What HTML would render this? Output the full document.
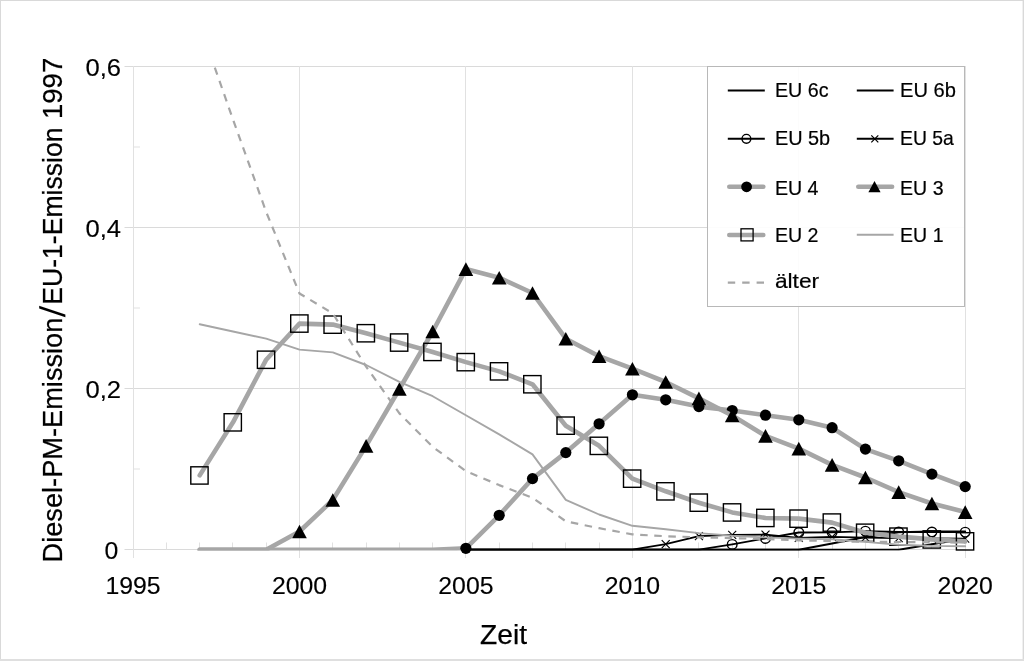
<!DOCTYPE html>
<html lang="de"><head><meta charset="utf-8"><title>Diesel-PM-Emission</title>
<style>html,body{margin:0;padding:0;background:#fff}svg{display:block}text{font-family:"Liberation Sans",sans-serif;fill:#000}</style>
</head><body>
<svg width="1024" height="661" viewBox="0 0 1024 661">
<rect x="0" y="0" width="1024" height="661" fill="#fff"/>
<rect x="0" y="0" width="1024" height="1" fill="#d9d9d9"/>
<rect x="0" y="0" width="1" height="661" fill="#d9d9d9"/>
<rect x="1022.6" y="0" width="1.4" height="661" fill="#d9d9d9"/>
<rect x="0" y="659" width="1024" height="2" fill="#dfdfdf"/>
<g stroke="#e1e1e1" stroke-width="1" fill="none">
<line x1="124.5" y1="66.5" x2="966" y2="66.5" stroke="#dadada"/>
<line x1="124.5" y1="227.5" x2="966" y2="227.5" stroke="#dadada"/>
<line x1="124.5" y1="388.5" x2="966" y2="388.5" stroke="#dadada"/>
<line x1="124.5" y1="549.5" x2="966" y2="549.5" stroke="#dadada"/>
<line x1="133.5" y1="66" x2="133.5" y2="558"/>
<line x1="299.5" y1="66" x2="299.5" y2="558"/>
<line x1="465.5" y1="66" x2="465.5" y2="558"/>
<line x1="632.5" y1="66" x2="632.5" y2="558"/>
<line x1="798.5" y1="66" x2="798.5" y2="558"/>
<line x1="965.5" y1="66" x2="965.5" y2="558"/>
<line x1="166.5" y1="542.5" x2="166.5" y2="549.5"/>
<line x1="199.5" y1="542.5" x2="199.5" y2="549.5"/>
<line x1="232.5" y1="542.5" x2="232.5" y2="549.5"/>
<line x1="266.5" y1="542.5" x2="266.5" y2="549.5"/>
<line x1="332.5" y1="542.5" x2="332.5" y2="549.5"/>
<line x1="366.5" y1="542.5" x2="366.5" y2="549.5"/>
<line x1="399.5" y1="542.5" x2="399.5" y2="549.5"/>
<line x1="432.5" y1="542.5" x2="432.5" y2="549.5"/>
<line x1="499.5" y1="542.5" x2="499.5" y2="549.5"/>
<line x1="532.5" y1="542.5" x2="532.5" y2="549.5"/>
<line x1="565.5" y1="542.5" x2="565.5" y2="549.5"/>
<line x1="599.5" y1="542.5" x2="599.5" y2="549.5"/>
<line x1="665.5" y1="542.5" x2="665.5" y2="549.5"/>
<line x1="698.5" y1="542.5" x2="698.5" y2="549.5"/>
<line x1="732.5" y1="542.5" x2="732.5" y2="549.5"/>
<line x1="765.5" y1="542.5" x2="765.5" y2="549.5"/>
<line x1="832.5" y1="542.5" x2="832.5" y2="549.5"/>
<line x1="865.5" y1="542.5" x2="865.5" y2="549.5"/>
<line x1="898.5" y1="542.5" x2="898.5" y2="549.5"/>
<line x1="931.5" y1="542.5" x2="931.5" y2="549.5"/>
<line x1="133" y1="147" x2="140" y2="147"/>
<line x1="133" y1="308" x2="140" y2="308"/>
<line x1="133" y1="469" x2="140" y2="469"/>
</g>
<defs><clipPath id="pa"><rect x="133" y="66" width="840" height="484.6"/></clipPath></defs>
<polyline clip-path="url(#pa)" points="465.9,549.7 499.2,549.7 532.5,549.7 565.8,549.7 599.1,549.7 632.4,549.7 665.7,549.7 698.9,549.7 732.2,549.7 765.5,549.7 798.8,549.7 832.1,549.7 865.4,549.7 898.7,549.7 931.9,544.3 965.2,538.7" fill="none" stroke="#000" stroke-width="2.0" stroke-linejoin="round" stroke-linecap="round"/>
<polyline clip-path="url(#pa)" points="465.9,549.7 499.2,549.7 532.5,549.7 565.8,549.7 599.1,549.7 632.4,549.7 665.7,549.7 698.9,549.7 732.2,549.7 765.5,549.7 798.8,549.7 832.1,543.5 865.4,537.0 898.7,532.2 931.9,531.4 965.2,531.4" fill="none" stroke="#000" stroke-width="1.9" stroke-linejoin="round" stroke-linecap="round"/>
<polyline clip-path="url(#pa)" points="465.9,549.7 499.2,549.7 532.5,549.7 565.8,549.7 599.1,549.7 632.4,549.7 665.7,549.7 698.9,549.7 732.2,544.4 765.5,538.4 798.8,532.5 832.1,532.3 865.4,531.2 898.7,532.0 931.9,532.0 965.2,532.2" fill="none" stroke="#000" stroke-width="1.8" stroke-linejoin="round" stroke-linecap="round"/>
<circle cx="732.2" cy="544.4" r="4.8" fill="none" stroke="#000" stroke-width="1.4"/>
<circle cx="765.5" cy="538.4" r="4.8" fill="none" stroke="#000" stroke-width="1.4"/>
<circle cx="798.8" cy="532.5" r="4.8" fill="none" stroke="#000" stroke-width="1.4"/>
<circle cx="832.1" cy="532.3" r="4.8" fill="none" stroke="#000" stroke-width="1.4"/>
<circle cx="865.4" cy="531.2" r="4.8" fill="none" stroke="#000" stroke-width="1.4"/>
<circle cx="898.7" cy="532.0" r="4.8" fill="none" stroke="#000" stroke-width="1.4"/>
<circle cx="931.9" cy="532.0" r="4.8" fill="none" stroke="#000" stroke-width="1.4"/>
<circle cx="965.2" cy="532.2" r="4.8" fill="none" stroke="#000" stroke-width="1.4"/>
<polyline clip-path="url(#pa)" points="465.9,549.7 499.2,549.7 532.5,549.7 565.8,549.7 599.1,549.7 632.4,549.7 665.7,544.1 698.9,536.2 732.2,534.9 765.5,534.6 798.8,537.8 832.1,536.8 865.4,537.7 898.7,538.1 931.9,538.4 965.2,538.7" fill="none" stroke="#000" stroke-width="1.8" stroke-linejoin="round" stroke-linecap="round"/>
<path d="M661.7 540.1L669.7 548.1M661.7 548.1L669.7 540.1" fill="none" stroke="#000" stroke-width="1.1"/>
<path d="M694.9 532.2L702.9 540.2M694.9 540.2L702.9 532.2" fill="none" stroke="#000" stroke-width="1.1"/>
<path d="M728.2 530.9L736.2 538.9M728.2 538.9L736.2 530.9" fill="none" stroke="#000" stroke-width="1.1"/>
<path d="M761.5 530.6L769.5 538.6M761.5 538.6L769.5 530.6" fill="none" stroke="#000" stroke-width="1.1"/>
<path d="M794.8 533.8L802.8 541.8M794.8 541.8L802.8 533.8" fill="none" stroke="#000" stroke-width="1.1"/>
<path d="M828.1 532.8L836.1 540.8M828.1 540.8L836.1 532.8" fill="none" stroke="#000" stroke-width="1.1"/>
<path d="M861.4 533.7L869.4 541.7M861.4 541.7L869.4 533.7" fill="none" stroke="#000" stroke-width="1.1"/>
<path d="M894.7 534.1L902.7 542.1M894.7 542.1L902.7 534.1" fill="none" stroke="#000" stroke-width="1.1"/>
<path d="M927.9 534.4L935.9 542.4M927.9 542.4L935.9 534.4" fill="none" stroke="#000" stroke-width="1.1"/>
<path d="M961.2 534.7L969.2 542.7M961.2 542.7L969.2 534.7" fill="none" stroke="#000" stroke-width="1.1"/>
<polyline clip-path="url(#pa)" points="199.7,549.7 233.0,549.7 266.2,549.7 299.5,549.7 332.8,549.7 366.1,549.7 399.4,549.7 432.7,549.7 465.9,548.3 499.2,515.3 532.5,478.6 565.8,452.6 599.1,423.8 632.4,394.8 665.7,399.8 698.9,406.6 732.2,410.5 765.5,415.2 798.8,419.8 832.1,427.7 865.4,449.1 898.7,460.8 931.9,474.1 965.2,486.6" fill="none" stroke="#a6a6a6" stroke-width="4.6" stroke-linejoin="round" stroke-linecap="round"/>
<circle cx="465.9" cy="548.3" r="5.6" fill="#000"/>
<circle cx="499.2" cy="515.3" r="5.6" fill="#000"/>
<circle cx="532.5" cy="478.6" r="5.6" fill="#000"/>
<circle cx="565.8" cy="452.6" r="5.6" fill="#000"/>
<circle cx="599.1" cy="423.8" r="5.6" fill="#000"/>
<circle cx="632.4" cy="394.8" r="5.6" fill="#000"/>
<circle cx="665.7" cy="399.8" r="5.6" fill="#000"/>
<circle cx="698.9" cy="406.6" r="5.6" fill="#000"/>
<circle cx="732.2" cy="410.5" r="5.6" fill="#000"/>
<circle cx="765.5" cy="415.2" r="5.6" fill="#000"/>
<circle cx="798.8" cy="419.8" r="5.6" fill="#000"/>
<circle cx="832.1" cy="427.7" r="5.6" fill="#000"/>
<circle cx="865.4" cy="449.1" r="5.6" fill="#000"/>
<circle cx="898.7" cy="460.8" r="5.6" fill="#000"/>
<circle cx="931.9" cy="474.1" r="5.6" fill="#000"/>
<circle cx="965.2" cy="486.6" r="5.6" fill="#000"/>
<polyline clip-path="url(#pa)" points="199.7,549.7 233.0,549.7 266.2,549.7 299.5,531.5 332.8,500.0 366.1,445.9 399.4,389.0 432.7,331.5 465.9,269.1 499.2,277.7 532.5,293.0 565.8,338.7 599.1,356.2 632.4,368.7 665.7,382.0 698.9,398.4 732.2,415.5 765.5,435.9 798.8,448.6 832.1,464.9 865.4,477.5 898.7,492.1 931.9,503.5 965.2,512.1" fill="none" stroke="#a6a6a6" stroke-width="4.6" stroke-linejoin="round" stroke-linecap="round"/>
<path d="M299.5 524.7L306.8 538.3L292.2 538.3Z" fill="#000"/>
<path d="M332.8 493.2L340.1 506.8L325.5 506.8Z" fill="#000"/>
<path d="M366.1 439.1L373.4 452.7L358.8 452.7Z" fill="#000"/>
<path d="M399.4 382.2L406.7 395.8L392.1 395.8Z" fill="#000"/>
<path d="M432.7 324.7L440.0 338.3L425.4 338.3Z" fill="#000"/>
<path d="M465.9 262.3L473.2 275.9L458.6 275.9Z" fill="#000"/>
<path d="M499.2 270.9L506.5 284.5L491.9 284.5Z" fill="#000"/>
<path d="M532.5 286.2L539.8 299.8L525.2 299.8Z" fill="#000"/>
<path d="M565.8 331.9L573.1 345.5L558.5 345.5Z" fill="#000"/>
<path d="M599.1 349.4L606.4 363.0L591.8 363.0Z" fill="#000"/>
<path d="M632.4 361.9L639.7 375.5L625.1 375.5Z" fill="#000"/>
<path d="M665.7 375.2L673.0 388.8L658.4 388.8Z" fill="#000"/>
<path d="M698.9 391.6L706.2 405.2L691.6 405.2Z" fill="#000"/>
<path d="M732.2 408.7L739.5 422.3L724.9 422.3Z" fill="#000"/>
<path d="M765.5 429.1L772.8 442.7L758.2 442.7Z" fill="#000"/>
<path d="M798.8 441.8L806.1 455.4L791.5 455.4Z" fill="#000"/>
<path d="M832.1 458.1L839.4 471.7L824.8 471.7Z" fill="#000"/>
<path d="M865.4 470.7L872.7 484.3L858.1 484.3Z" fill="#000"/>
<path d="M898.7 485.3L906.0 498.9L891.4 498.9Z" fill="#000"/>
<path d="M931.9 496.7L939.2 510.3L924.6 510.3Z" fill="#000"/>
<path d="M965.2 505.3L972.5 518.9L957.9 518.9Z" fill="#000"/>
<polyline clip-path="url(#pa)" points="199.7,475.4 233.0,422.3 266.2,359.7 299.5,323.6 332.8,324.6 366.1,333.3 399.4,342.6 432.7,352.0 465.9,362.1 499.2,371.4 532.5,384.3 565.8,425.7 599.1,445.8 632.4,478.6 665.7,491.3 698.9,502.7 732.2,512.4 765.5,518.0 798.8,518.6 832.1,522.6 865.4,532.8 898.7,536.6 931.9,539.4 965.2,541.4" fill="none" stroke="#a6a6a6" stroke-width="4.6" stroke-linejoin="round" stroke-linecap="round"/>
<rect x="190.8" y="466.8" width="17.3" height="17.3" fill="none" stroke="#000" stroke-width="1.4"/>
<rect x="224.1" y="413.7" width="17.3" height="17.3" fill="none" stroke="#000" stroke-width="1.4"/>
<rect x="257.4" y="351.1" width="17.3" height="17.3" fill="none" stroke="#000" stroke-width="1.4"/>
<rect x="290.7" y="314.9" width="17.3" height="17.3" fill="none" stroke="#000" stroke-width="1.4"/>
<rect x="324.0" y="316.0" width="17.3" height="17.3" fill="none" stroke="#000" stroke-width="1.4"/>
<rect x="357.2" y="324.6" width="17.3" height="17.3" fill="none" stroke="#000" stroke-width="1.4"/>
<rect x="390.5" y="333.9" width="17.3" height="17.3" fill="none" stroke="#000" stroke-width="1.4"/>
<rect x="423.8" y="343.3" width="17.3" height="17.3" fill="none" stroke="#000" stroke-width="1.4"/>
<rect x="457.1" y="353.5" width="17.3" height="17.3" fill="none" stroke="#000" stroke-width="1.4"/>
<rect x="490.4" y="362.7" width="17.3" height="17.3" fill="none" stroke="#000" stroke-width="1.4"/>
<rect x="523.7" y="375.6" width="17.3" height="17.3" fill="none" stroke="#000" stroke-width="1.4"/>
<rect x="557.0" y="417.0" width="17.3" height="17.3" fill="none" stroke="#000" stroke-width="1.4"/>
<rect x="590.2" y="437.2" width="17.3" height="17.3" fill="none" stroke="#000" stroke-width="1.4"/>
<rect x="623.5" y="470.0" width="17.3" height="17.3" fill="none" stroke="#000" stroke-width="1.4"/>
<rect x="656.8" y="482.7" width="17.3" height="17.3" fill="none" stroke="#000" stroke-width="1.4"/>
<rect x="690.1" y="494.0" width="17.3" height="17.3" fill="none" stroke="#000" stroke-width="1.4"/>
<rect x="723.4" y="503.8" width="17.3" height="17.3" fill="none" stroke="#000" stroke-width="1.4"/>
<rect x="756.7" y="509.3" width="17.3" height="17.3" fill="none" stroke="#000" stroke-width="1.4"/>
<rect x="789.9" y="510.0" width="17.3" height="17.3" fill="none" stroke="#000" stroke-width="1.4"/>
<rect x="823.2" y="513.9" width="17.3" height="17.3" fill="none" stroke="#000" stroke-width="1.4"/>
<rect x="856.5" y="524.1" width="17.3" height="17.3" fill="none" stroke="#000" stroke-width="1.4"/>
<rect x="889.8" y="528.0" width="17.3" height="17.3" fill="none" stroke="#000" stroke-width="1.4"/>
<rect x="923.1" y="530.8" width="17.3" height="17.3" fill="none" stroke="#000" stroke-width="1.4"/>
<rect x="956.4" y="532.7" width="17.3" height="17.3" fill="none" stroke="#000" stroke-width="1.4"/>
<polyline clip-path="url(#pa)" points="199.7,324.2 233.0,331.5 266.2,338.6 299.5,349.6 332.8,352.4 366.1,365.0 399.4,381.8 432.7,396.2 465.9,415.2 499.2,434.4 532.5,454.4 565.8,499.9 599.1,514.5 632.4,525.8 665.7,529.2 698.9,533.1 732.2,535.8 765.5,537.4 798.8,538.6 832.1,539.2 865.4,541.9 898.7,544.7 931.9,545.9 965.2,546.3" fill="none" stroke="#a6a6a6" stroke-width="1.9" stroke-linejoin="round" stroke-linecap="round"/>
<polyline clip-path="url(#pa)" points="199.7,24.6 233.0,119.5 266.2,212.0 299.5,293.5 332.8,313.4 366.1,366.6 399.4,413.4 432.7,446.9 465.9,471.1 499.2,485.1 532.5,497.8 565.8,521.3 599.1,528.2 632.4,534.4 665.7,536.2 698.9,537.3 732.2,538.1 765.5,539.0 798.8,540.3 832.1,541.1 865.4,541.9 898.7,542.0 931.9,542.3 965.2,542.7" fill="none" stroke="#a6a6a6" stroke-width="2.2" stroke-linejoin="round" stroke-linecap="butt" stroke-dasharray="7.5 6.6" stroke-dashoffset="10.8"/>
<g font-size="24.8px" stroke="#000" stroke-width="0.15">
<text x="133.1" y="593.8" text-anchor="middle">1995</text>
<text x="299.5" y="593.8" text-anchor="middle">2000</text>
<text x="465.9" y="593.8" text-anchor="middle">2005</text>
<text x="632.4" y="593.8" text-anchor="middle">2010</text>
<text x="798.8" y="593.8" text-anchor="middle">2015</text>
<text x="965.2" y="593.8" text-anchor="middle">2020</text>
<text x="85.4" y="75.5" textLength="35.6" lengthAdjust="spacingAndGlyphs">0,6</text>
<text x="85.4" y="236.5" textLength="35.6" lengthAdjust="spacingAndGlyphs">0,4</text>
<text x="85.4" y="397.5" textLength="35.6" lengthAdjust="spacingAndGlyphs">0,2</text>
<text x="118.3" y="558.5" text-anchor="end">0</text>
</g>
<text x="503.6" y="643.6" font-size="28.2px" stroke="#000" stroke-width="0.25" text-anchor="middle">Zeit</text>
<g transform="translate(61.8 0) rotate(-90)" font-size="28.4px" stroke="#000" stroke-width="0.25">
<text x="-562.48" y="0" textLength="244.85" lengthAdjust="spacingAndGlyphs">Diesel-PM-Emission</text>
<text transform="translate(-317.18 2.77) skewX(-3.29)" font-size="35.68px" stroke-width="0">/</text>
<text x="-304.82" y="0" textLength="177.37" lengthAdjust="spacingAndGlyphs">EU-1-Emission</text>
<text x="-119.08" y="0" textLength="61.41" lengthAdjust="spacingAndGlyphs">1997</text>
</g>
<rect x="707.5" y="66.5" width="257" height="240" fill="#fff" fill-opacity="0.9" stroke="#b8b8b8" stroke-width="1"/>
<line x1="727.8" y1="90.6" x2="764.8" y2="90.6" stroke="#000" stroke-width="2.0" stroke-linecap="butt"/>
<line x1="856.8" y1="90.6" x2="893.6" y2="90.6" stroke="#000" stroke-width="2.0" stroke-linecap="butt"/>
<line x1="727.8" y1="138.8" x2="764.8" y2="138.8" stroke="#000" stroke-width="1.9" stroke-linecap="butt"/>
<circle cx="746.4" cy="138.8" r="4.4" fill="none" stroke="#000" stroke-width="1.4"/>
<line x1="856.8" y1="138.8" x2="893.6" y2="138.8" stroke="#000" stroke-width="1.9" stroke-linecap="butt"/>
<path d="M871.3 135.3L878.3 142.3M871.3 142.3L878.3 135.3" fill="none" stroke="#000" stroke-width="1.2"/>
<line x1="729.3" y1="186.8" x2="763.3" y2="186.8" stroke="#a6a6a6" stroke-width="4.6" stroke-linecap="round"/>
<circle cx="746.6" cy="186.8" r="5.4" fill="#000"/>
<line x1="858.3" y1="186.8" x2="892.1" y2="186.8" stroke="#a6a6a6" stroke-width="4.6" stroke-linecap="round"/>
<path d="M874.5 180.9L880.6 192.3L868.4 192.3Z" fill="#000"/>
<line x1="729.3" y1="235.0" x2="763.3" y2="235.0" stroke="#a6a6a6" stroke-width="4.6" stroke-linecap="round"/>
<rect x="741.0" y="228.8" width="12.1" height="12.1" fill="none" stroke="#000" stroke-width="1.3"/>
<line x1="856.8" y1="234.8" x2="893.6" y2="234.8" stroke="#a6a6a6" stroke-width="1.9" stroke-linecap="butt"/>
<line x1="727.8" y1="282.7" x2="764" y2="282.7" stroke="#a6a6a6" stroke-width="2.2" stroke-linecap="butt" stroke-dasharray="7.4 7"/>
<g font-size="20.8px" stroke="#000" stroke-width="0.2">
<text x="774.9" y="96.7" textLength="53.6" lengthAdjust="spacingAndGlyphs">EU 6c</text>
<text x="900.1" y="96.7" textLength="55.9" lengthAdjust="spacingAndGlyphs">EU 6b</text>
<text x="774.9" y="144.9" textLength="55.3" lengthAdjust="spacingAndGlyphs">EU 5b</text>
<text x="900.1" y="144.9" textLength="53.8" lengthAdjust="spacingAndGlyphs">EU 5a</text>
<text x="774.9" y="194.5" textLength="43.6" lengthAdjust="spacingAndGlyphs">EU 4</text>
<text x="900.1" y="194.5" textLength="43.4" lengthAdjust="spacingAndGlyphs">EU 3</text>
<text x="774.9" y="241.8" textLength="43.6" lengthAdjust="spacingAndGlyphs">EU 2</text>
<text x="900.1" y="241.8" textLength="43.4" lengthAdjust="spacingAndGlyphs">EU 1</text>
<text x="774.9" y="287.7" textLength="44.3" lengthAdjust="spacingAndGlyphs">älter</text>
</g>
</svg></body></html>
